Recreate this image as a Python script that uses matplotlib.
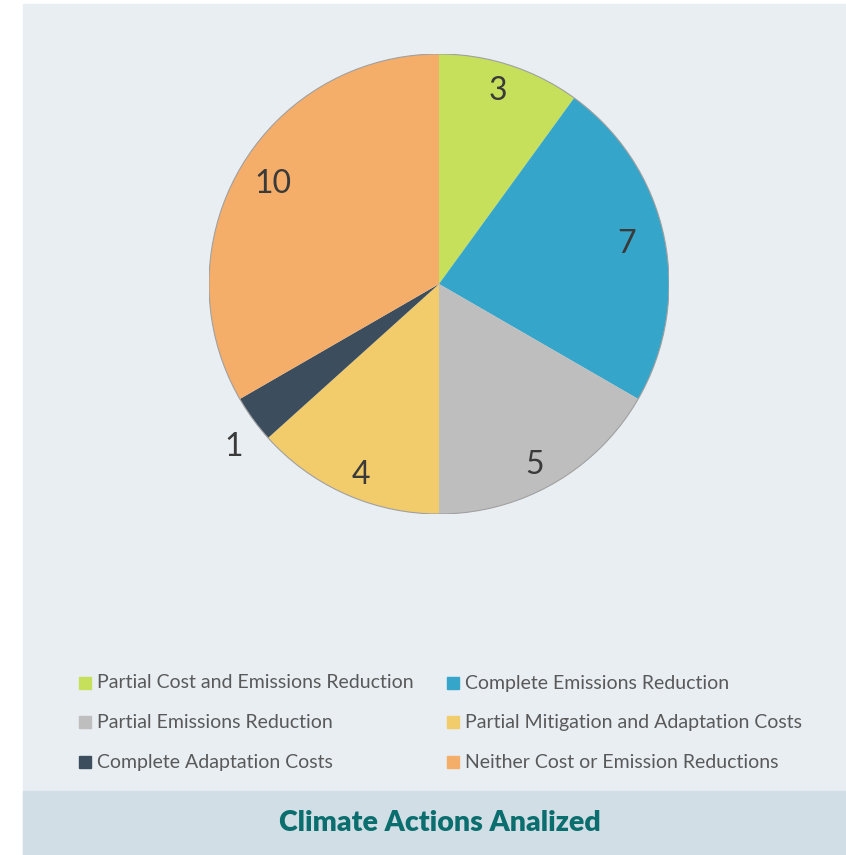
import numpy as np
import matplotlib.pyplot as plt
from matplotlib.patches import Rectangle, Circle

categories = [
    "Partial Cost and Emissions Reduction",
    "Complete Emissions Reduction",
    "Partial Emissions Reduction",
    "Partial Mitigation and Adaptation Costs",
    "Complete Adaptation Costs",
    "Neither Cost or Emission Reductions",
]
counts = [3, 7, 5, 4, 1, 10]
colors = ["#C6E05B", "#35A5C9", "#BEBEBE", "#F2CB6A", "#3C4E5E", "#F5AE69"]
title = "Climate Actions Analized"

W, H = 846, 855
fig = plt.figure(figsize=(W / 100, H / 100), dpi=100)
fig.patch.set_facecolor("white")

# panel background and bottom banner
fig.patches.append(Rectangle((23 / W, 0), 1 - 23 / W, (H - 4) / H,
                             transform=fig.transFigure, color="#E9EEF3", zorder=-2))
fig.patches.append(Rectangle((23 / W, 0), 1 - 23 / W, 64 / H,
                             transform=fig.transFigure, color="#D2DEE6", zorder=-1))

# pie axes, center (439, 284) px, radius 230 px
cx, cy, r = 439, 284, 230
ax = fig.add_axes([(cx - r) / W, (H - cy - r) / H, 2 * r / W, 2 * r / H])
wedges, _ = ax.pie(counts, colors=colors, startangle=90, counterclock=False,
                   radius=1, wedgeprops=dict(linewidth=0))
ax.add_patch(Circle((0, 0), 1, fill=False, edgecolor="#A0A0A0", linewidth=0.8))
ax.set_xlim(-1, 1)
ax.set_ylim(-1, 1)
ax.set_aspect("equal")
ax.axis("off")

for w, v in zip(wedges, counts):
    mid = np.deg2rad((w.theta1 + w.theta2) / 2)
    dist = 1.14 if v == 1 else 0.86
    # labels sit slightly stretched vertically in the original
    ax.text(dist * np.cos(mid) * 0.97, dist * np.sin(mid) * 1.04, str(v),
            ha="center", va="center_baseline",
            fontsize=23, color="#3A3A3A", family="Lato")

# legend, two columns, rows read left to right
col_x = [79, 447]
row_y = [683, 722, 762]
sq = 12
for i, (lab, c) in enumerate(zip(categories, colors)):
    x0, y0 = col_x[i % 2], row_y[i // 2]
    fig.patches.append(Rectangle((x0 / W, 1 - (y0 + sq / 2) / H), sq / W, sq / H,
                                 transform=fig.transFigure, color=c, zorder=1))
    fig.text((x0 + sq + 6) / W, 1 - y0 / H, lab, ha="left", va="center",
             fontsize=14, color="#595959", family="Lato")

fig.text(440 / W, 1 - 823 / H, title, ha="center", va="center",
         fontsize=20.5, fontweight="heavy", color="#0B6E6E", family="Lato")

fig.savefig("out.png", dpi=100)
